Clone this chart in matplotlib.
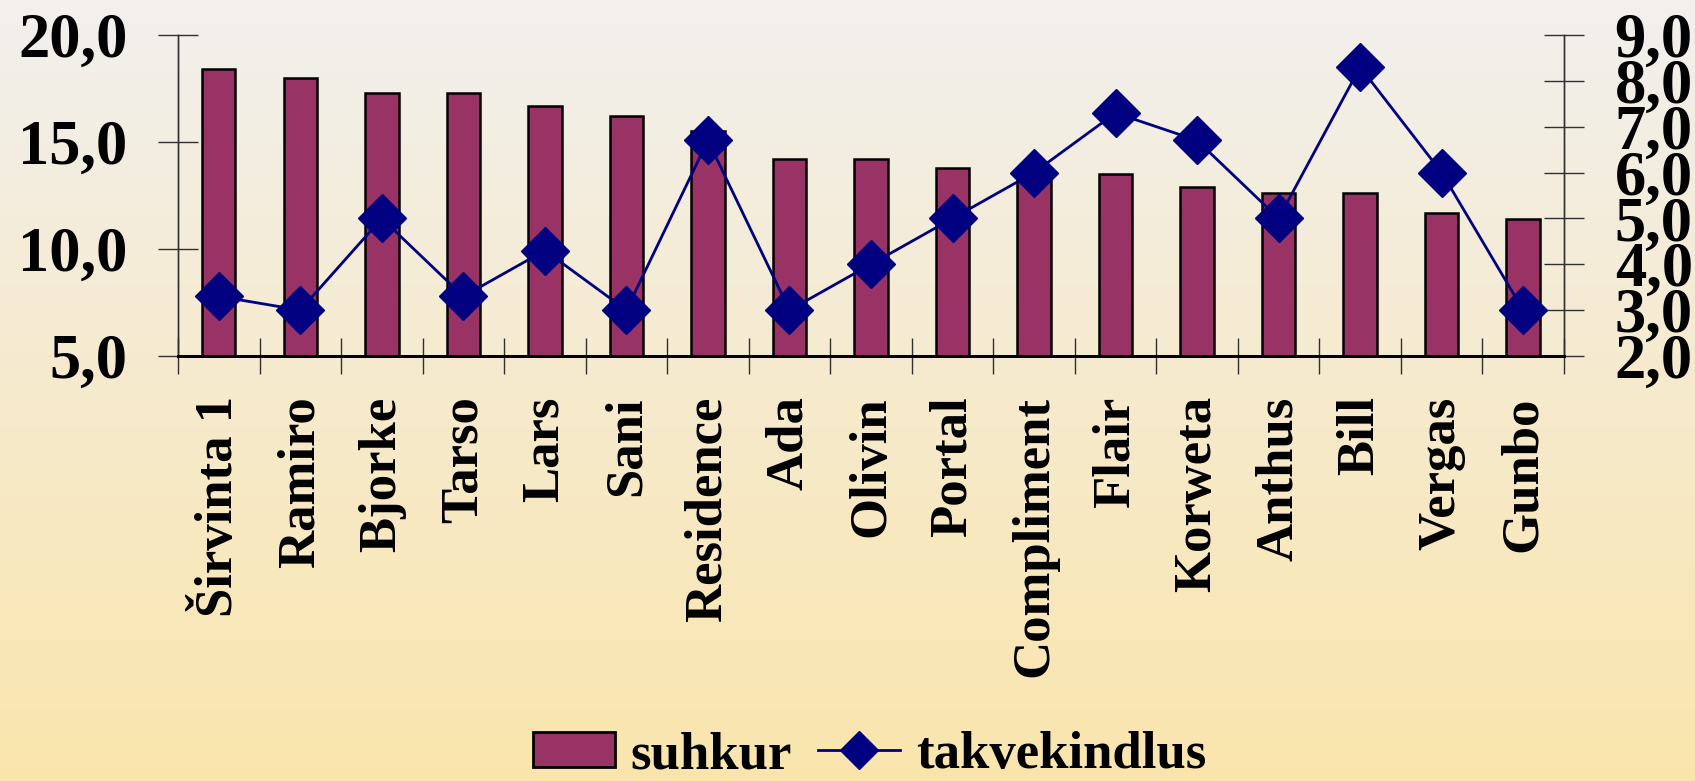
import numpy as np
import matplotlib
matplotlib.use('Agg')
import matplotlib.pyplot as plt
from matplotlib.lines import Line2D
from matplotlib.patches import Patch

categories = ["Širvinta 1", "Ramiro", "Bjorke", "Tarso", "Lars", "Sani", "Residence",
              "Ada", "Olivin", "Portal", "Compliment", "Flair", "Korweta", "Anthus",
              "Bill", "Vergas", "Gunbo"]
suhkur = [18.4, 18.0, 17.3, 17.3, 16.7, 16.2, 15.5, 14.2, 14.2, 13.8, 13.6, 13.5,
          12.9, 12.6, 12.6, 11.7, 11.4]
takvekindlus = [3.3, 3.0, 5.0, 3.3, 4.3, 3.0, 6.7, 3.0, 4.0, 5.0, 6.0, 7.3, 6.7,
                5.0, 8.3, 6.0, 3.0]
left_ticks = [5, 10, 15, 20]
right_ticks = [2, 3, 4, 5, 6, 7, 8, 9]
series_names = ["suhkur", "takvekindlus"]

BAR_COLOR = "#993366"
LINE_COLOR = "#000080"

plt.rcParams['font.family'] = ['Liberation Serif', 'DejaVu Serif']
plt.rcParams['font.weight'] = 'bold'

fig = plt.figure(figsize=(16.95, 7.81), dpi=100)

# background gradient
bg = fig.add_axes([0, 0, 1, 1], zorder=-10)
top = np.array([242, 240, 238]) / 255
bot = np.array([250, 229, 172]) / 255
t = np.linspace(0, 1, 256)[:, None]
grad = top[None, :] * (1 - t) + bot[None, :] * t
bg.imshow(grad[:, None, :], aspect='auto', extent=[0, 1, 0, 1])
bg.set_axis_off()

ax = fig.add_axes([0.105, 0.5442, 0.8177, 0.411])
ax.patch.set_alpha(0)
x = np.arange(len(categories))
ax.bar(x, suhkur, width=0.41, color=BAR_COLOR, edgecolor='black', linewidth=1.8, zorder=2)
ax.set_xlim(-0.5, len(categories) - 0.5)
ax.set_ylim(5, 20)
ax.set_yticks(left_ticks)
ax.set_yticklabels([f"{v:.1f}".replace('.', ',') for v in left_ticks])

ax2 = ax.twinx()
ax2.plot(x, takvekindlus, color=LINE_COLOR, lw=2, marker='D', ms=24,
         markerfacecolor=LINE_COLOR, markeredgecolor=LINE_COLOR, zorder=3)
ax2.set_ylim(2, 9)
ax2.set_yticks(right_ticks)
ax2.set_yticklabels([f"{v:.1f}".replace('.', ',') for v in right_ticks])

# x ticks: labels at centers, tick marks at boundaries
ax.set_xticks(x)
ax.set_xticklabels(categories, rotation=90, fontsize=38, fontweight='bold')
ax.set_xticks(np.arange(-0.5, len(categories), 1.0), minor=True)
ax.tick_params(axis='x', which='major', length=0, pad=29)
ax.tick_params(axis='x', which='minor', direction='inout', length=26, width=1, color='#303030')
ax.tick_params(axis='y', direction='inout', length=29, width=1, color='#303030',
               labelsize=45, pad=22)
ax2.tick_params(axis='y', direction='inout', length=29, width=1, color='#303030',
                labelsize=45, pad=22)

for a in (ax, ax2):
    a.spines['top'].set_visible(False)
    a.spines['left'].set_linewidth(1)
    a.spines['left'].set_color('#303030')
    a.spines['right'].set_linewidth(1)
    a.spines['right'].set_color('#303030')
    a.spines['bottom'].set_linewidth(2)
    a.spines['bottom'].set_color('black')
for lbl in ax.get_yticklabels() + ax2.get_yticklabels():
    lbl.set_fontweight('bold')

handles = [Patch(facecolor=BAR_COLOR, edgecolor='black', linewidth=2),
           Line2D([], [], color=LINE_COLOR, lw=2, marker='D', ms=19,
                  markerfacecolor=LINE_COLOR, markeredgecolor=LINE_COLOR)]
fig.legend(handles, series_names, loc='center', bbox_to_anchor=(0.513, 0.033), ncol=2,
           frameon=False, fontsize=38, handlelength=1.55, handletextpad=0.3,
           columnspacing=0.5, handleheight=0.65, borderpad=0, borderaxespad=0)

fig.savefig('out.png', dpi=100)
